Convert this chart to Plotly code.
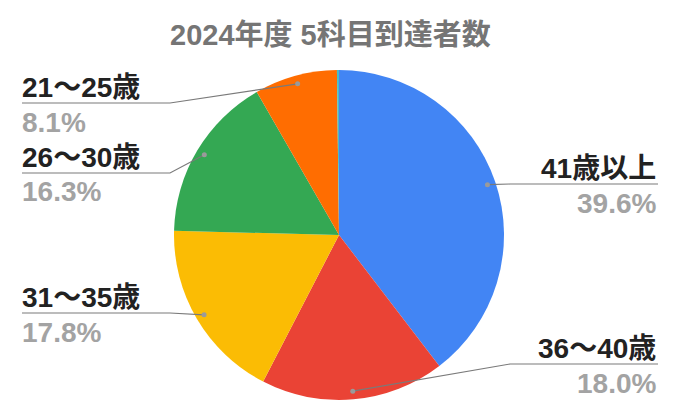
import math
import plotly.graph_objects as go

title = '2024年度 5科目到達者数'
labels = ['41歳以上', '36～40歳', '31～35歳', '26～30歳', '21～25歳', '20歳以下']
values = [39.6, 18.0, 17.8, 16.3, 8.1, 0.2]
colors = ['#4285F4', '#EA4335', '#FBBC04', '#34A853', '#FF6D01', '#46BDC6']

# label layout (pixels): which side and the y of the underline, None = no label
label_side = ['right', 'right', 'left', 'left', 'left', None]
label_line_y = [184, 364, 313, 173, 103, None]

W, H = 678, 420
cx, cy, R = 339, 235, 165
font = 'Liberation Sans, Arial, Noto Sans CJK JP, sans-serif'


def px(x):
    return x / W


def py(y):
    return 1 - y / H


fig = go.Figure()
fig.add_trace(go.Pie(
    labels=labels, values=values, sort=False, direction='clockwise', rotation=0,
    marker=dict(colors=colors, line=dict(width=0)),
    textinfo='none', hoverinfo='label+percent', showlegend=False,
    domain=dict(x=[px(cx - R), px(cx + R)], y=[py(cy + R), py(cy - R)]),
))

shapes = []
annotations = []
total = sum(values)
cum = 0
for lab, v, side, uy in zip(labels, values, label_side, label_line_y):
    mid = (cum + v / 2) / total * 2 * math.pi
    cum += v
    if side is None:
        continue
    dx = cx + 0.95 * R * math.sin(mid)
    dy = cy - 0.95 * R * math.cos(mid)
    if side == 'left':
        elbow, end, tx, anchor = 170, 22, 20, 'left'
    else:
        elbow, end, tx, anchor = 510, 658, 658, 'right'
    path = 'M {} {} L {} {} L {} {}'.format(px(dx), py(dy), px(elbow), py(uy), px(end), py(uy))
    shapes.append(dict(type='path', path=path, xref='paper', yref='paper',
                       line=dict(color='#7a7a7a', width=1.2)))
    shapes.append(dict(type='circle', xref='paper', yref='paper',
                       x0=px(dx - 2.5), x1=px(dx + 2.5), y0=py(dy + 2.5), y1=py(dy - 2.5),
                       fillcolor='#9a9a9a', line=dict(width=0)))
    annotations.append(dict(text='<b>' + lab + '</b>', x=px(tx), y=py(uy - 16),
                            xref='paper', yref='paper', xanchor=anchor, yanchor='middle',
                            showarrow=False, font=dict(size=28, color='#222222', family=font)))
    annotations.append(dict(text='<b>{:.1f}%</b>'.format(v), x=px(tx), y=py(uy + 19),
                            xref='paper', yref='paper', xanchor=anchor, yanchor='middle',
                            showarrow=False, font=dict(size=28, color='#a3a3a3', family=font)))

annotations.append(dict(text='<b>' + title + '</b>', x=px(330), y=py(35), xref='paper', yref='paper',
                        xanchor='center', yanchor='middle', showarrow=False,
                        font=dict(size=29, color='#757575', family=font)))

fig.update_layout(width=W, height=H, autosize=False,
                  margin=dict(l=0, r=0, t=0, b=0),
                  paper_bgcolor='white', plot_bgcolor='white',
                  shapes=shapes, annotations=annotations)
fig.write_html('out.html', config={'displayModeBar': False},
               post_script="document.body.style.margin='0';")
